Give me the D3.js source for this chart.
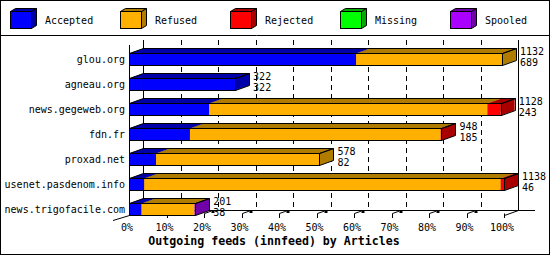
<!DOCTYPE html>
<html><head><meta charset="utf-8">
<script src="https://cdn.jsdelivr.net/npm/d3@7"></script>
<style>
body{margin:0;background:#fff}
svg{display:block}
text{font-family:"DejaVu Sans Mono",monospace;font-size:10px;fill:#000}
</style>
</head><body>
<svg id="c" width="550" height="255"></svg>
<script>
const categories = ["glou.org","agneau.org","news.gegeweb.org","fdn.fr","proxad.net","usenet.pasdenom.info","news.trigofacile.com"];
const seriesNames = ["Accepted","Refused","Rejected","Missing","Spooled"];
const accepted = [689,322,243,185,82,46,38];
const refused  = [443,0,845,761,496,1082,161];
const rejected = [0,0,40,2,0,10,0];
const missing  = [0,0,0,0,0,0,0];
const spooled  = [0,0,0,0,0,0,2];
const totals   = [1132,322,1128,948,578,1138,201];
const tickLabels = ["0%","10%","20%","30%","40%","50%","60%","70%","80%","90%","100%"];
const title = "Outgoing feeds (innfeed) by Articles";

const colors = ["#0000ff","#ffb000","#ff0000","#00ff00","#aa00ff"];
const darks  = ["#0000a8","#b07c00","#a80000","#00a800","#7000a8"];

const svg = d3.select("#c");
svg.append("rect").attr("x",0.5).attr("y",0.5).attr("width",549).attr("height",254)
  .attr("fill","#fff").attr("stroke","#000");
svg.append("line").attr("x1",0).attr("x2",550).attr("y1",35.5).attr("y2",35.5).attr("stroke","#000");

function poly(g, pts, fill, stroke){
  return g.append("polygon").attr("points", pts.map(p=>p.join(",")).join(" "))
    .attr("fill", fill).attr("stroke", stroke || "none");
}

// legend
const lg = svg.append("g");
seriesNames.forEach((n,i)=>{
  const x = 10.5 + i*110, y = 11.5, w = 21, h = 17, dx = 5, dy = 3;
  poly(lg, [[x,y],[x+dx,y-dy],[x+w+dx,y-dy],[x+w,y]], darks[i], "#000");
  poly(lg, [[x+w,y],[x+w+dx,y-dy],[x+w+dx,y+h-dy],[x+w,y+h]], darks[i], "#000");
  lg.append("rect").attr("x",x).attr("y",y).attr("width",w).attr("height",h)
    .attr("fill",colors[i]).attr("stroke","#000");
  lg.append("text").attr("x", 10 + i*110 + 35).attr("y", 24).text(n);
});

// scales
const DX = 14, DY = 5;
const maxTotal = d3.max(totals);
const x = d3.scaleLinear().domain([0, maxTotal]).range([129, 504]);
const y = d3.scaleBand().domain(categories).range([40, 215]);
const barH = 12;
const sx = v => Math.round(x(v)) + 0.5;

const g = svg.append("g");
const tickVals = tickLabels.map((t,i)=>maxTotal*i/10);

// back wall gridlines
tickVals.slice(1,10).forEach(v=>{
  g.append("line").attr("x1",sx(v)+DX).attr("x2",sx(v)+DX).attr("y1",40).attr("y2",210)
    .attr("stroke","#000").attr("stroke-dasharray","5,4");
});
// frame lines
const L = (x1,y1,x2,y2)=>g.append("line").attr("x1",x1).attr("y1",y1).attr("x2",x2).attr("y2",y2).attr("stroke","#000");
L(sx(0)+DX,40,sx(0)+DX,211);
L(sx(maxTotal)+DX,40,sx(maxTotal)+DX,211);
L(sx(0)+DX,210.5,535,210.5);
L(sx(0),45,sx(0),215.5);
L(sx(0),215.5,113,220.5);
L(sx(maxTotal)+DX,210.5,sx(maxTotal),215.5);

// ticks
tickVals.forEach((v,i)=>{
  const fx = sx(v);
  if(i>0){
    L(fx,213.5,fx,218);
    if(i<10){
      L(fx,213.5,fx+7,211);
      g.append("rect").attr("x",fx+7).attr("y",211).attr("width",3).attr("height",2).attr("fill","#000");
    }
  }
  g.append("text").attr("x", x(v)-2).attr("y",231).attr("text-anchor","middle").text(tickLabels[i]);
});

// bars
const series = [accepted, refused, rejected, missing, spooled];
categories.forEach((c,ci)=>{
  const top = y(c) + y.step() - barH + 0.5;
  const bot = top + barH;
  let cum = 0;
  const bg = g.append("g");
  series.forEach((s,si)=>{
    const v = s[ci];
    if(!v) return;
    const x0 = x(cum), x1 = x(cum+v);
    cum += v;
    bg.append("rect").attr("x",x0).attr("y",top).attr("width",x1-x0).attr("height",barH).attr("fill",colors[si]);
    poly(bg, [[x0,top],[x0+DX,top-DY],[x1+DX,top-DY],[x1,top]], darks[si]);
    poly(bg, [[x1,top],[x1+DX,top-DY],[x1+DX,bot-DY],[x1,bot]], darks[si]);
  });
  const a = sx(0), b = sx(totals[ci]);
  bg.append("rect").attr("x",a).attr("y",top).attr("width",b-a).attr("height",barH)
    .attr("fill","none").attr("stroke","#000");
  poly(bg, [[a,top],[a+DX,top-DY],[b+DX,top-DY],[b,top]], "none", "#000");
  poly(bg, [[b,top],[b+DX,top-DY],[b+DX,bot-DY],[b,bot]], "none", "#000");
  // value labels
  g.append("text").attr("x", x(totals[ci]) + 18).attr("y", top + 1).text(totals[ci]);
  g.append("text").attr("x", x(totals[ci]) + 18).attr("y", top + 12).text(accepted[ci]);
});

// y labels
categories.forEach(c=>{
  g.append("text").attr("x",125).attr("y", y(c) + y.step() - barH + 10)
    .attr("text-anchor","end").text(c);
});

// title
svg.append("text").attr("x",274).attr("y",245).attr("text-anchor","middle")
  .style("font-weight","bold").style("font-size","11.6px").text(title);
</script>
</body></html>
